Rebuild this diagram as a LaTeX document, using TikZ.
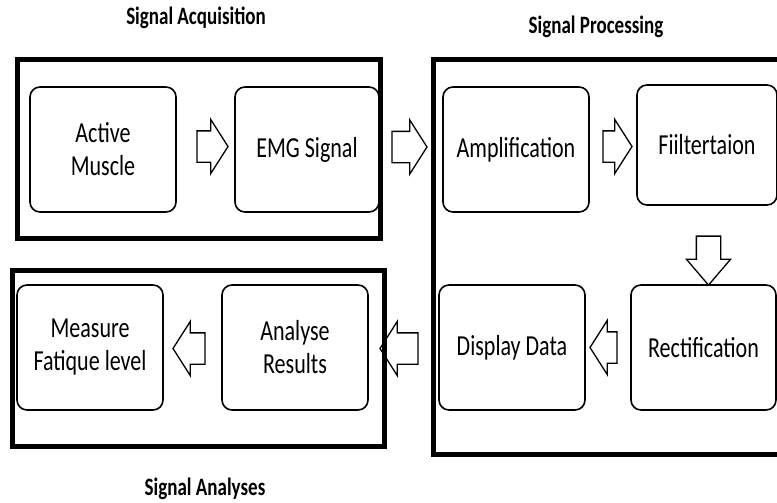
\documentclass[tikz,border=0pt]{standalone}
\usepackage{fontspec}
\setmainfont{Carlito}[FakeStretch=0.76]
\usepackage{tikz}
\usetikzlibrary{shapes.arrows}

\begin{document}
\begin{tikzpicture}[x=1pt, y=-1pt,
    box/.style={draw, line width=1.6pt, rounded corners=10pt, align=center,
                minimum width=146pt, minimum height=125pt, inner sep=0pt,
                font=\fontsize{29}{33}\selectfont},
    frame/.style={draw, line width=5pt, inner sep=0pt},
    title/.style={font=\fontsize{25}{30}\selectfont\bfseries},
    blockarrow/.style={single arrow, draw, line width=1.3pt, inner xsep=0pt,
                inner ysep=15pt, single arrow head extend=11.5pt,
                single arrow tip angle=115, minimum height=33pt}]
      \useasboundingbox (0,0) rectangle (777,503);
      \clip (0,0) rectangle (777,503);

      % groups
      \node[frame, minimum width=363pt, minimum height=178pt] (ACQ)  at (198.5, 149) {};
      \node[frame, minimum width=372pt, minimum height=176pt] (ANA)  at (198,   358) {};
      \node[frame, minimum width=380pt, minimum height=394pt] (PROC) at (623,   257) {};

      \node[title] (tACQ)  at (196, 18)  {Signal Acquisition};
      \node[title] (tPROC) at (596, 27)  {Signal Processing};
      \node[title] (tANA)  at (205, 489) {Signal Analyses};

      % steps
      \node[box]                       (AM)   at (103,   149.5) {Active\\Muscle};
      \node[box, minimum width=144pt]  (EMG)  at (307,   149.5) {EMG Signal};
      \node[box]                       (AMP)  at (516,   149.5) {Amplification};
      \node[box, minimum width=140pt, minimum height=120pt] (FIL) at (707, 145) {Fiiltertaion};
      \node[box, minimum width=145pt]  (REC)  at (703.5, 347.5) {Rectification};
      \node[box]                       (DISP) at (512,   347.5) {Display Data};
      \node[box]                       (RES)  at (295,   347.5) {Analyse\\Results};
      \node[box]                       (MEAS) at (90,    347.5) {Measure\\Fatique level};

      % block arrows
      \node[blockarrow, minimum height=31pt]            (a1) at (207.5, 146.5) {};
      \node[blockarrow, minimum height=35pt]            (a2) at (404.5, 147) {};
      \node[blockarrow, minimum height=29pt]            (a3) at (612.5, 146.5) {};
      \node[blockarrow, rotate=-90, minimum height=49pt, inner ysep=11.5pt,
            single arrow head extend=10pt, single arrow tip angle=81] (a4) at (708.5, 253.5) {};
      \node[blockarrow, rotate=180, minimum height=27pt] (a5) at (608.5, 347.5) {};
      \node[blockarrow, rotate=180, minimum height=38pt] (a6) at (404,   348.5) {};
      \node[blockarrow, rotate=180, minimum height=32pt] (a7) at (194,   348.5) {};
\end{tikzpicture}
\end{document}
